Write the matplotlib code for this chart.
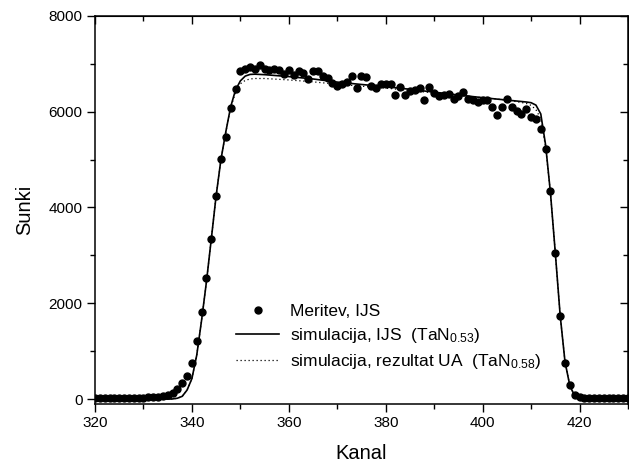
import numpy as np
import matplotlib
matplotlib.use("Agg")
import matplotlib.pyplot as plt
from matplotlib.ticker import MultipleLocator

plt.rcParams['font.family'] = ['Liberation Sans', 'DejaVu Sans']
plt.rcParams['mathtext.fontset'] = 'custom'
plt.rcParams['mathtext.rm'] = 'Liberation Sans'
plt.rcParams['mathtext.it'] = 'Liberation Sans:italic'
plt.rcParams['mathtext.bf'] = 'Liberation Sans:bold'

# Measured data (Meritev, IJS)
channels = list(range(320, 431))
counts = [25, 25, 25, 25, 25, 25, 25, 30, 30, 35,
          35, 40, 45, 50, 60, 85, 131, 215, 328, 480,
          758, 1217, 1823, 2533, 3340, 4245, 5004, 5470, 6075, 6466,
          6855, 6890, 6940, 6890, 6980, 6890, 6875, 6890, 6870, 6785,
          6860, 6755, 6840, 6800, 6680, 6850, 6855, 6745, 6690, 6600,
          6535, 6570, 6610, 6750, 6485, 6735, 6720, 6540, 6500, 6570,
          6570, 6575, 6355, 6520, 6340, 6430, 6445, 6500, 6250, 6520,
          6380, 6330, 6345, 6370, 6260, 6325, 6400, 6255, 6235, 6205,
          6235, 6240, 6100, 5935, 6100, 6255, 6100, 6020, 5950, 6060,
          5880, 5840, 5640, 5210, 4340, 3060, 1740, 760, 290, 80,
          40, 35, 35, 35, 35, 35, 35, 35, 35, 35, 35]

# Simulations
sim_ch = [320, 330, 334, 335, 336, 337, 338, 339, 340, 341, 342, 343, 344, 345,
          346, 347, 348, 349, 350, 351, 352, 353, 355, 360, 365, 370, 375, 380,
          385, 390, 395, 400, 405, 408, 409, 410, 411, 412, 413, 414, 415, 416,
          417, 418, 419, 420, 421, 425, 430]
sim_ijs = [0, 0, 0, 2, 5, 20, 60, 190, 430, 920, 1650, 2450, 3340, 4245,
           5004, 5580, 6100, 6450, 6640, 6740, 6775, 6780, 6770, 6730, 6680, 6615, 6565, 6520,
           6465, 6405, 6345, 6290, 6240, 6210, 6200, 6185, 6135, 5950, 5300, 4300, 3050, 1750,
           780, 280, 70, 15, 3, 0, 0]
sim_ua = [0, 0, 0, 2, 5, 20, 60, 190, 430, 920, 1650, 2450, 3340, 4245,
          5004, 5570, 6080, 6400, 6580, 6650, 6680, 6690, 6690, 6660, 6620, 6570, 6530, 6490,
          6440, 6390, 6340, 6290, 6240, 6190, 6170, 6130, 6040, 5850, 5250, 4300, 3050, 1750,
          780, 280, 70, 15, 3, 0, 0]

labels = ['Meritev, IJS',
          'simulacija, IJS  (TaN$_{\\mathregular{0.53}}$)',
          'simulacija, rezultat UA  (TaN$_{\\mathregular{0.58}}$)']

W, H = 629, 465
fig = plt.figure(figsize=(W / 100, H / 100), dpi=100)
ax = fig.add_axes([95 / W, 1 - 403.5 / H, (628 - 95) / W, (403.5 - 15.7) / H])

ax.plot(channels, counts, 'o', color='black', ms=5, mec='black', label=labels[0], zorder=3)
ax.plot(sim_ch, sim_ijs, '-', color='black', lw=1.2, label=labels[1], zorder=2)
ax.plot(sim_ch, sim_ua, color='black', lw=0.9, linestyle=(0, (1, 2.2)), label=labels[2], zorder=2)

ax.set_xlim(320, 430)
ax.set_ylim(-90, 8000)
ax.xaxis.set_major_locator(MultipleLocator(20))
ax.xaxis.set_minor_locator(MultipleLocator(10))
ax.yaxis.set_major_locator(MultipleLocator(2000))
ax.yaxis.set_minor_locator(MultipleLocator(1000))

ax.tick_params(which='both', direction='out', bottom=True, left=True, top=False, right=False,
               width=1, labelsize=11, pad=3)
ax.tick_params(which='major', length=6)
ax.tick_params(which='minor', length=3.5)

# inward mirror ticks on top and right
axt = ax.secondary_xaxis('top')
axt.xaxis.set_major_locator(MultipleLocator(20))
axt.xaxis.set_minor_locator(MultipleLocator(10))
axt.tick_params(which='both', direction='in', labeltop=False, width=1)
axt.tick_params(which='major', length=6)
axt.tick_params(which='minor', length=3.5)
axr = ax.secondary_yaxis('right')
axr.yaxis.set_major_locator(MultipleLocator(2000))
axr.yaxis.set_minor_locator(MultipleLocator(1000))
axr.tick_params(which='both', direction='in', labelright=False, width=1)
axr.tick_params(which='major', length=6)
axr.tick_params(which='minor', length=3.5)

for s in ax.spines.values():
    s.set_linewidth(1.1)

ax.set_xlabel('Kanal', fontsize=14.5, labelpad=10)
ax.set_ylabel('Sunki', fontsize=14.5, labelpad=10)

leg = ax.legend(loc='upper left', bbox_to_anchor=(236 / W, 1 - 304 / H),
                bbox_transform=fig.transFigure, frameon=False, fontsize=12.5,
                numpoints=1, handlelength=2.5, handletextpad=0.6, labelspacing=0.4,
                borderpad=0, borderaxespad=0)

fig.savefig('out.png', dpi=100)
